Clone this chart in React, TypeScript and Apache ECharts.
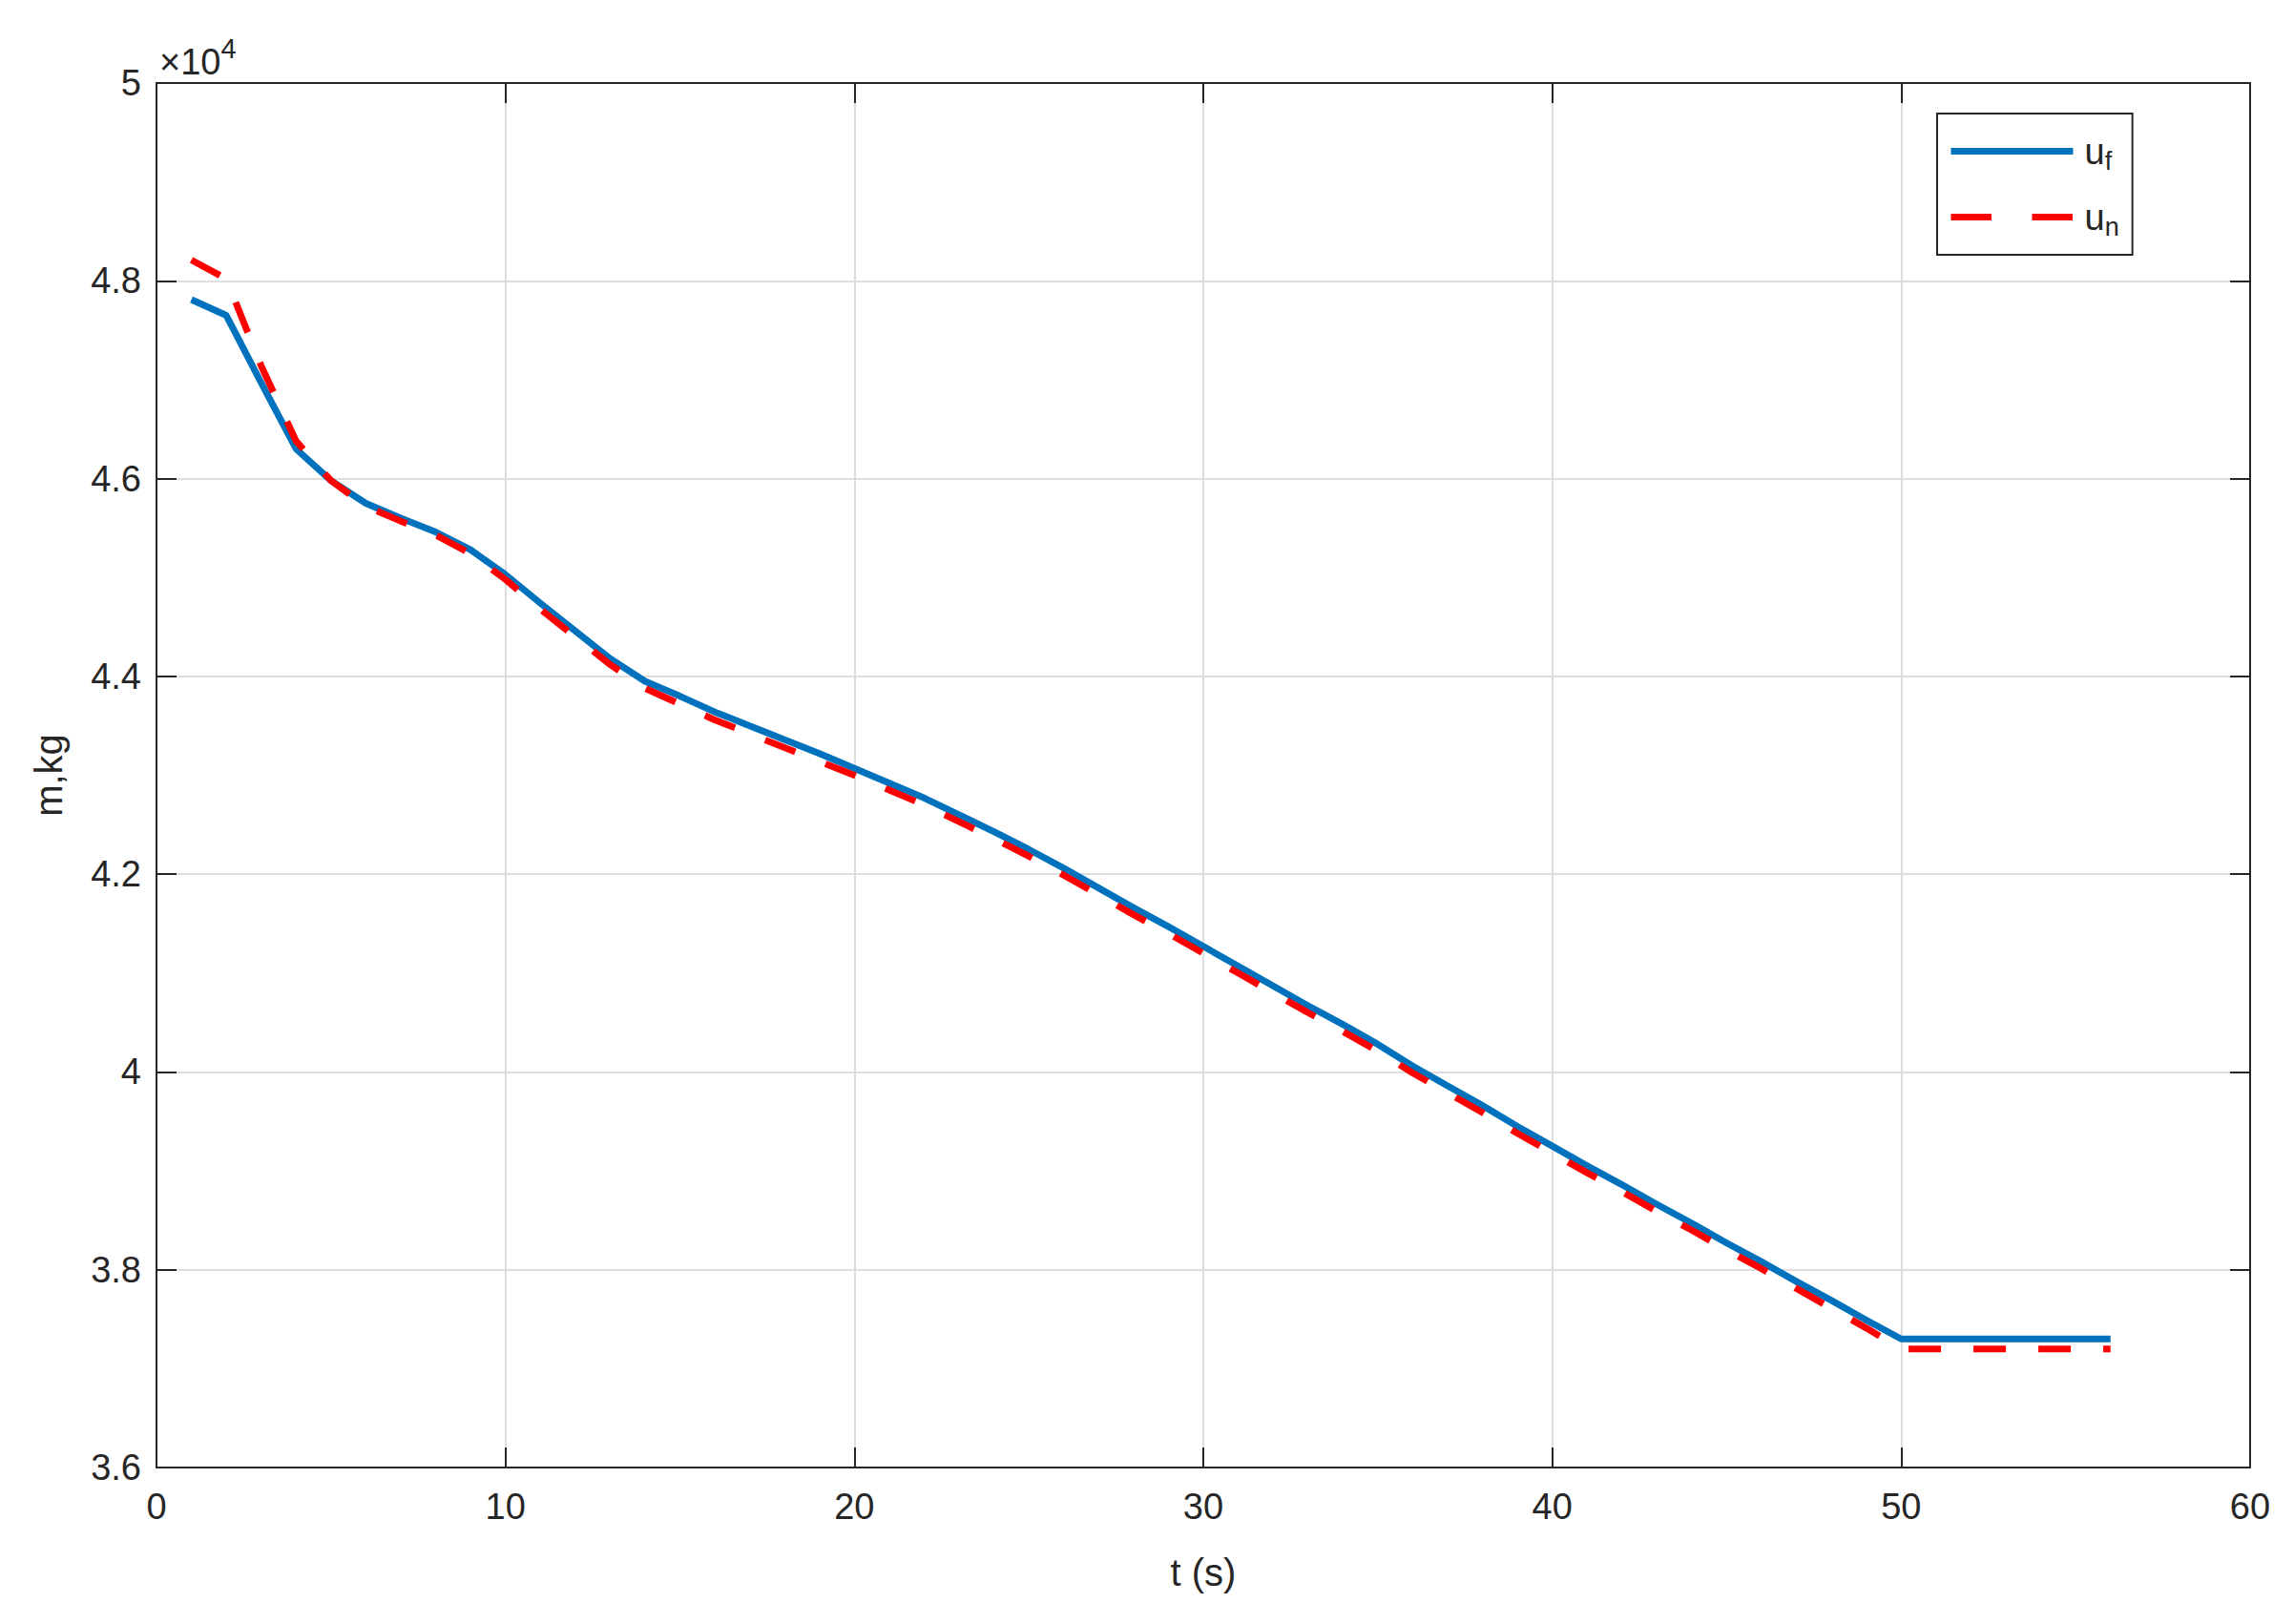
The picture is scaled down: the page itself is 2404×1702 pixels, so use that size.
import React, { useEffect, useRef } from "react";
import * as echarts from "echarts";

const times = [
  1, 2, 3, 4, 5, 6, 7, 8, 9, 10, 11, 12, 13, 14, 15, 16, 17, 18, 19, 20,
  21, 22, 23, 24, 25, 26, 27, 28, 29, 30, 31, 32, 33, 34, 35, 36, 37, 38, 39, 40,
  41, 42, 43, 44, 45, 46, 47, 48, 49, 50, 51, 52, 53, 54, 55, 56,
];

// u_f mass (kg)
const ufMass = [
  47810, 47650, 46970, 46300, 45980, 45750, 45600, 45460, 45280, 45030,
  44740, 44460, 44180, 43950, 43800, 43640, 43500, 43360, 43220, 43070,
  42920, 42770, 42600, 42430, 42250, 42060, 41860, 41660, 41470, 41270,
  41070, 40870, 40670, 40480, 40280, 40060, 39860, 39660, 39450, 39250,
  39050, 38860, 38660, 38470, 38270, 38080, 37880, 37690, 37490, 37300,
  37300, 37300, 37300, 37300, 37300, 37300,
];

// u_n mass (kg)
const unMass = [
  48210, 48020, 47140, 46380, 45980, 45720, 45570, 45430, 45240, 44980,
  44680, 44400, 44120, 43880, 43720, 43560, 43420, 43280, 43140, 43000,
  42850, 42700, 42530, 42360, 42180, 41990, 41790, 41590, 41400, 41200,
  41000, 40800, 40600, 40410, 40210, 39990, 39790, 39590, 39380, 39180,
  38980, 38790, 38590, 38400, 38200, 38010, 37810, 37610, 37410, 37200,
  37200, 37200, 37200, 37200, 37200, 37200,
];

const xTicks = { min: 0, max: 60, interval: 10 };
const yTicks = { min: 36000, max: 50000, interval: 2000 };

const FONT = "'Liberation Sans', Arial, Helvetica, sans-serif";
const TXT = "#262626";
const BLUE = "#0072BD";
const RED = "#FF0000";

export default function App() {
  const ref = useRef<HTMLDivElement>(null);

  useEffect(() => {
    document.body.style.margin = "0";
    if (!ref.current) return;
    const chart = echarts.init(ref.current, undefined, { renderer: "svg" });

    const fmtY = (v: number) => String(+(v / 1e4).toFixed(1));

    const baseAxisLine = { show: true, onZero: false, lineStyle: { color: TXT, width: 2 } };
    const tick = { show: true, inside: true, length: 21, lineStyle: { color: TXT, width: 2 } };
    const grid = { show: true, lineStyle: { color: "#dedede", width: 2 } };

    const legendRich = {
      u: { fontSize: 38, color: TXT, fontFamily: FONT, lineHeight: 46, padding: [0, 0, 0, 7] },
      s: { fontSize: 27, color: TXT, fontFamily: FONT, padding: [20, 0, 0, 0], lineHeight: 46 },
    };

    const option: any = {
      animation: false,
      backgroundColor: "#ffffff",
      grid: {
        left: 164,
        right: 46,
        top: 87,
        bottom: 164,
        outerBoundsMode: "none",
        containLabel: false,
      },
      legend: {
        orient: "vertical",
        left: 2030,
        top: 119,
        padding: [16, 14, 16, 11],
        itemGap: 22,
        itemWidth: 128,
        itemHeight: 22,
        backgroundColor: "#ffffff",
        borderColor: TXT,
        borderWidth: 2,
        borderRadius: 0,
        itemStyle: { opacity: 0, borderWidth: 0 },
        lineStyle: { width: 7 },
        textStyle: { rich: legendRich, color: TXT },
        formatter: (name: string) =>
          name === "u_f" ? "{u|u}{s|f}" : "{u|u}{s|n}",
        data: [
          { name: "u_f" },
          { name: "u_n", lineStyle: { width: 7, type: [42.5, 42.5] } },
        ],
      },
      xAxis: [
        {
          type: "value",
          min: xTicks.min,
          max: xTicks.max,
          interval: xTicks.interval,
          position: "bottom",
          name: "t (s)",
          nameLocation: "middle",
          nameGap: 90,
          nameTextStyle: { fontSize: 40, color: TXT, fontFamily: FONT },
          axisLine: baseAxisLine,
          axisTick: tick,
          axisLabel: { fontSize: 38, color: TXT, fontFamily: FONT, margin: 22 },
          splitLine: grid,
        },
        {
          type: "value",
          min: xTicks.min,
          max: xTicks.max,
          interval: xTicks.interval,
          position: "top",
          axisLine: baseAxisLine,
          axisTick: tick,
          axisLabel: { show: false },
          splitLine: { show: false },
        },
      ],
      yAxis: [
        {
          type: "value",
          min: yTicks.min,
          max: yTicks.max,
          interval: yTicks.interval,
          position: "left",
          name: "m,kg",
          nameLocation: "middle",
          nameGap: 93,
          nameTextStyle: { fontSize: 40, color: TXT, fontFamily: FONT },
          axisLine: baseAxisLine,
          axisTick: tick,
          axisLabel: {
            fontSize: 38,
            color: TXT,
            fontFamily: FONT,
            margin: 16,
            formatter: fmtY,
          },
          splitLine: grid,
        },
        {
          type: "value",
          min: yTicks.min,
          max: yTicks.max,
          interval: yTicks.interval,
          position: "right",
          axisLine: baseAxisLine,
          axisTick: tick,
          axisLabel: { show: false },
          splitLine: { show: false },
        },
      ],
      graphic: [
        {
          type: "text",
          left: 167,
          top: 36,
          style: {
            text: "{a|×}{b|10}{c|4}",
            rich: {
              a: { fontSize: 38, fill: TXT, fontFamily: FONT, padding: [14, 0, 0, 0] },
              b: { fontSize: 38, fill: TXT, fontFamily: FONT, padding: [14, 0, 0, 0] },
              c: { fontSize: 29, fill: TXT, fontFamily: FONT, padding: [0, 0, 14, 0] },
            },
          },
        },
      ],
      series: [
        {
          name: "u_f",
          type: "line",
          xAxisIndex: 0,
          yAxisIndex: 0,
          data: times.map((t, i) => [t, ufMass[i]]),
          symbol: "none",
          lineStyle: { color: BLUE, width: 7, cap: "butt", join: "round" },
          itemStyle: { color: BLUE },
          z: 3,
        },
        {
          name: "u_n",
          type: "line",
          xAxisIndex: 0,
          yAxisIndex: 0,
          data: times.map((t, i) => [t, unMass[i]]),
          symbol: "none",
          lineStyle: { color: RED, width: 7, type: [34, 34], cap: "butt" },
          itemStyle: { color: RED },
          z: 4,
        },
      ],
    };

    chart.setOption(option);
    return () => chart.dispose();
  }, []);

  return <div ref={ref} style={{ width: 2404, height: 1702 }} />;
}
